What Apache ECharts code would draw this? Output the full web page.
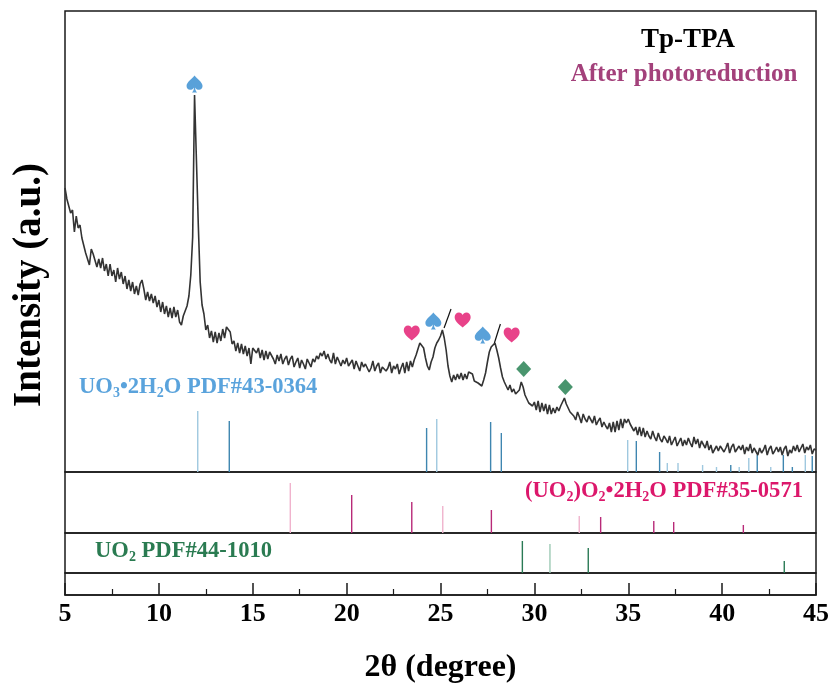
<!DOCTYPE html>
<html>
<head>
<meta charset="utf-8">
<title>Tp-TPA XRD</title>
<script src="https://cdn.jsdelivr.net/npm/echarts@6/dist/echarts.min.js"></script>
<style>
	html, body { margin: 0; padding: 0; background: #fff; }
	#xrd { width: 834px; height: 688px; }
</style>
</head>
<body>
<div id="xrd"></div>
<script>
// measured pattern, 5-45 deg, step 0.1 (a.u.)
var thetaStart = 5,
	thetaStep = 0.1,
	intensity = [
		284,273,271,259,262,240,256,244,247,234,
		234,219,221,207,223,218,217,205,213,204,
		214,201,208,196,208,196,202,190,204,193,
		200,188,196,183,192,181,190,178,186,177,
		188,192,183,172,180,171,178,169,176,165,
		172,160,170,158,166,155,164,154,165,155,
		162,150,147,156,154,166,176,197,235,377,
		312,247,190,167,158,142,147,134,141,130,
		140,129,139,131,143,134,145,144,140,128,
		131,121,129,119,128,118,126,116,124,108,
		124,126,119,124,114,122,112,121,113,120,
		119,113,108,117,111,118,108,113,116,107,
		113,116,105,110,114,104,112,108,103,113,
		111,105,113,110,116,113,119,116,121,113,
		118,112,109,119,108,115,117,106,112,108,
		114,106,109,112,103,111,106,101,110,105,
		108,110,100,104,111,101,106,109,99,105,
		107,101,104,110,99,106,103,108,98,104,
		109,99,110,101,111,105,112,117,123,129,
		130,124,114,106,102,110,115,124,129,132,
		136,142,134,122,106,96,90,97,92,98,
		93,99,92,98,93,100,101,98,91,93,
		89,88,86,92,99,110,120,125,127,129,
		122,114,104,95,90,89,82,87,80,83,
		78,80,82,90,85,77,75,69,70,66,
		70,62,71,60,69,61,68,58,67,58,
		64,59,65,61,66,68,74,68,66,60,
		62,56,52,60,55,49,58,53,50,56,
		54,49,56,47,51,54,45,50,46,43,
		49,40,50,40,51,42,53,44,53,49,
		53,48,49,41,45,37,45,36,44,35,
		41,36,33,41,35,31,39,33,30,36,
		33,29,36,27,31,35,26,30,34,26,
		32,27,34,29,25,35,28,33,24,31,
		33,24,31,22,27,19,18,26,21,26,
		26,20,24,29,19,25,28,20,23,26,
		22,27,18,25,21,28,19,24,26,17,
		24,19,22,27,17,23,26,18,21,25,
		20,25,17,23,26,16,22,19,26,21,
		27,20,24,28,19,25,22,27,18,23,
		22
	];

// standard cards [2theta, relative height]
var uo3Dark = [[13.75,51],[24.26,44],[27.67,50],[28.24,39],[35.43,31],[36.67,20],[40.46,7],[41.87,17],[43.26,17],[43.74,5],[44.80,16]],
	uo3Light = [[12.07,61],[24.80,53],[34.97,32],[37.08,9],[37.65,9],[38.96,7],[39.70,5],[40.91,5],[41.42,14],[42.59,5],[44.43,17]],
	peroxDark = [[20.27,38],[23.47,31],[27.71,23],[33.53,16],[36.36,12],[37.42,11],[41.13,8]],
	peroxLight = [[17.00,50],[25.12,27],[32.39,17]],
	uo2Dark = [[29.36,32],[32.87,25],[43.31,12]],
	uo2Light = [[30.83,29]];

// peak markers
var spades = [[11.9,388],[24.62,151],[27.25,137]],
	hearts = [[23.47,139],[26.18,152],[28.79,137]],
	diamonds = [[29.43,103],[31.65,85]],
	slashes = [[[25.19,144],[25.56,163]], [[27.87,129],[28.19,148]]];

var xTicks = [5, 45, 5];

var serif = "'Times New Roman', 'Liberation Serif', serif",
	left = 65, width = 751,
	panels = [[11, 461], [472, 61], [533, 40], [573, 22]];

var pattern = intensity.map(function(v, i){
	return [+(thetaStart + i*thetaStep).toFixed(2), v];
});

var spadePath = 'path://M50,0 C35,20 0,38 0,62 C0,76 10,84 22,84 C33,84 42,78 47,70 C46,82 42,92 34,100 L66,100 C58,92 54,82 53,70 C58,78 67,84 78,84 C90,84 100,76 100,62 C100,38 65,20 50,0 Z',
	heartPath = 'path://M50,92 C20,70 0,52 0,28 C0,12 12,0 27,0 C38,0 46,6 50,16 C54,6 62,0 73,0 C88,0 100,12 100,28 C100,52 80,70 50,92 Z';

function stick(name, data, idx, color){
	return {
		name: name,
		type: 'bar',
		xAxisIndex: idx,
		yAxisIndex: idx,
		data: data,
		barWidth: 1.4,
		barGap: '-100%',
		itemStyle: { color: color },
		silent: true,
		z: 1
	};
}

// rich styles: n = normal, s = subscript
function formula(size, color){
	return {
		n: { fontSize: size, fontWeight: 'bold', fontFamily: serif, fill: color, lineHeight: size + 2, verticalAlign: 'top' },
		s: { fontSize: Math.round(size*0.62), fontWeight: 'bold', fontFamily: serif, fill: color, lineHeight: 12, verticalAlign: 'bottom' }
	};
}

var chart = echarts.init(document.getElementById('xrd'));

var option = {
	backgroundColor: '#fff',
	animation: false,
	grid: panels.map(function(p){
		return { left: left, top: p[0], width: width, height: p[1], show: true, borderColor: '#1a1a1a', borderWidth: 1.5 };
	}),
	xAxis: panels.map(function(p, i){
		var ax = {
			type: 'value',
			gridIndex: i,
			min: xTicks[0],
			max: xTicks[1],
			interval: xTicks[2],
			splitLine: { show: false },
			axisLine: { show: false },
			axisTick: { show: false },
			axisLabel: { show: false }
		};
		if(i == 3){
			ax.axisLine = { show: true, lineStyle: { color: '#1a1a1a', width: 1.5 } };
			ax.axisTick = { show: true, inside: true, length: 12, lineStyle: { color: '#1a1a1a', width: 1.5 } };
			ax.minorTick = { show: true, splitNumber: 2, length: 6, lineStyle: { color: '#1a1a1a', width: 1.2 } };
			ax.axisLabel = { show: true, margin: 6, color: '#000', fontSize: 26, fontWeight: 'bold', fontFamily: serif };
			ax.name = '2θ (degree)';
			ax.nameLocation = 'middle';
			ax.nameGap = 57;
			ax.nameTextStyle = { color: '#000', fontSize: 32, fontWeight: 'bold', fontFamily: serif };
		}
		return ax;
	}),
	yAxis: panels.map(function(p, i){
		return { type: 'value', gridIndex: i, min: 0, max: p[1], show: false, splitLine: { show: false } };
	}),
	series: [
		stick('UO3 light', uo3Light, 0, '#9fc8df'),
		stick('UO3', uo3Dark, 0, '#3f86b0'),
		stick('(UO2)O2 light', peroxLight, 1, '#f0b3cd'),
		stick('(UO2)O2', peroxDark, 1, '#b82a78'),
		stick('UO2 light', uo2Light, 2, '#9dcab5'),
		stick('UO2', uo2Dark, 2, '#2a7a55'),
		{
			name: 'Tp-TPA',
			type: 'line',
			data: pattern,
			showSymbol: false,
			symbol: 'none',
			lineStyle: { color: '#333', width: 1.6 },
			silent: true,
			z: 3
		},
		{
			type: 'scatter', data: spades, symbol: spadePath, symbolSize: [16, 17],
			itemStyle: { color: '#2f89d0' }, silent: true, z: 4
		},
		{
			type: 'scatter', data: hearts, symbol: heartPath, symbolSize: [16, 15],
			itemStyle: { color: '#e2136b' }, silent: true, z: 4
		},
		{
			type: 'scatter', data: diamonds, symbol: 'diamond', symbolSize: [15, 16],
			itemStyle: { color: '#1b7a4a' }, silent: true, z: 4
		}
	].concat(slashes.map(function(s){
		return {
			type: 'line', data: s, showSymbol: false, symbol: 'none',
			lineStyle: { color: '#111', width: 1.2 }, silent: true, z: 4
		};
	})),
	graphic: [
		{
			type: 'text', x: 30, y: 285, rotation: Math.PI/2,
			style: { text: 'Intensity (a.u.)', textAlign: 'center', textVerticalAlign: 'middle', fill: '#000', font: 'bold 39px ' + serif }
		},
		{
			type: 'text', x: 688, y: 40,
			style: { text: 'Tp-TPA', textAlign: 'center', textVerticalAlign: 'middle', fill: '#000', font: 'bold 27px ' + serif }
		},
		{
			type: 'text', x: 684, y: 75,
			style: { text: 'After photoreduction', textAlign: 'center', textVerticalAlign: 'middle', fill: '#a3417b', font: 'bold 25px ' + serif }
		},
		{
			type: 'text', x: 79, y: 388,
			style: { text: '{n|UO}{s|3}{n|•2H}{s|2}{n|O PDF#43-0364}', textAlign: 'left', textVerticalAlign: 'middle', rich: formula(22.6, '#5aa3dc') }
		},
		{
			type: 'text', x: 803, y: 492,
			style: { text: '{n|(UO}{s|2}{n|)O}{s|2}{n|•2H}{s|2}{n|O PDF#35-0571}', textAlign: 'right', textVerticalAlign: 'middle', rich: formula(22.6, '#dc176b') }
		},
		{
			type: 'text', x: 95, y: 552,
			style: { text: '{n|UO}{s|2}{n| PDF#44-1010}', textAlign: 'left', textVerticalAlign: 'middle', rich: formula(22.6, '#2a7b51') }
		}
	]
};

chart.setOption(option);
</script>
</body>
</html>
